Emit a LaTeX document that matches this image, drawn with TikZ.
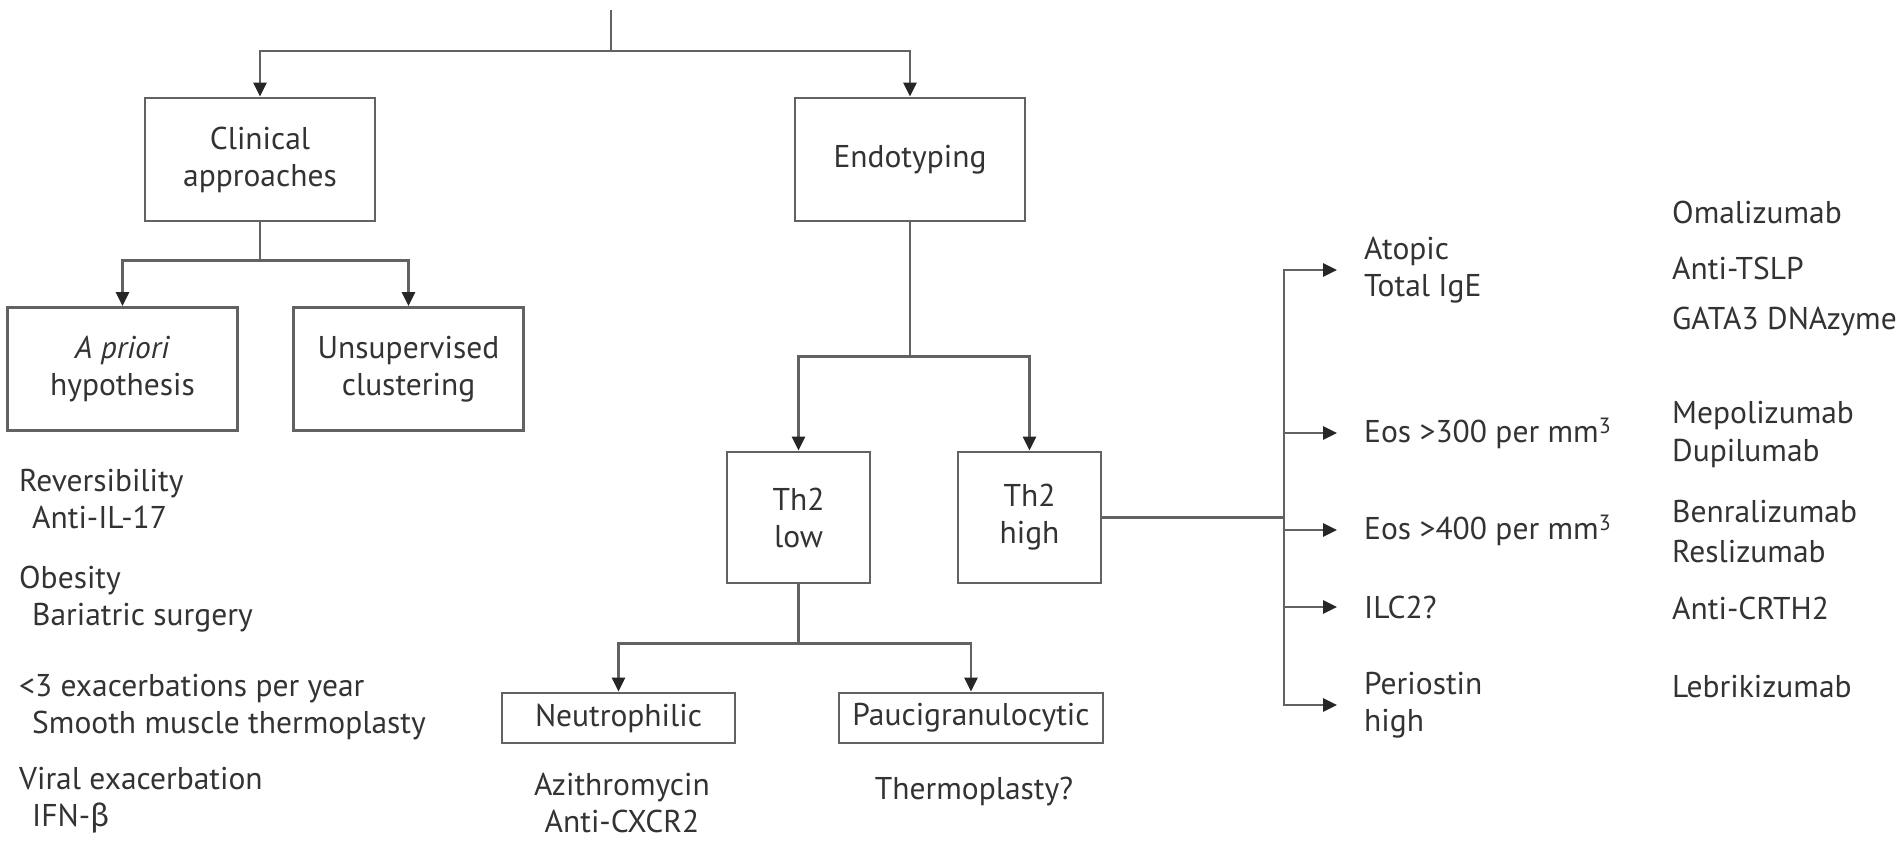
\documentclass[tikz,border=0pt]{standalone}
\usepackage{fontspec}
\setmainfont{PT Sans}
\newfontfamily\grk{Fira Sans}
\usetikzlibrary{arrows.meta}
\definecolor{lncol}{HTML}{626262}
\definecolor{txcol}{HTML}{333333}
\begin{document}
\begin{tikzpicture}[x=1pt,y=-1pt,
  every node/.style={font=\fontsize{31.5}{37}\selectfont, text=txcol},
  box/.style={draw=lncol, line width=2.8pt, align=center, inner sep=0pt},
  bigbox/.style={box, minimum width=230pt, minimum height=123pt},
  thbox/.style={box, minimum width=143pt, minimum height=131pt},
  smallbox/.style={box, minimum height=50pt},
  lbl/.style={anchor=west, align=left, inner sep=0pt},
  conn/.style={draw=lncol, line width=2.6pt},
  arr/.style={conn, -{Triangle[length=14pt,width=13pt,color=black!85]}}
]
\fill[white] (0,0) rectangle (1903,845);
\useasboundingbox (0,0) rectangle (1903,845);

% boxes
\node[bigbox] (clin) at (260,159.5) {Clinical\\approaches};
\node[bigbox] (endo) at (910,159.5) {Endotyping};
\node[bigbox] (apri) at (122.5,369) {\textit{A priori}\\hypothesis};
\node[bigbox] (unsup) at (408.5,369) {Unsupervised\\clustering};
\node[thbox] (th2l) at (798.5,517.5) {Th2\\low};
\node[thbox] (th2h) at (1029.5,517.5) {Th2\\high};
\node[smallbox, minimum width=233pt] (neut) at (618.5,718) {Neutrophilic};
\node[smallbox, minimum width=264pt] (pauci) at (971,718) {Paucigranulocytic};

% left texts
\node[lbl] (rev) at (19,499.5) {Reversibility\\\hspace*{13pt}Anti-IL-17};
\node[lbl] (obe) at (19,599) {Obesity\\\hspace*{13pt}Bariatric surgery};
\node[lbl] (exa) at (19,707.5) {<3 exacerbations per year\\\hspace*{13pt}Smooth muscle thermoplasty};
\node[lbl] (vir) at (19,800) {Viral exacerbation\\\hspace*{13pt}IFN-{\grk β}};

% bottom texts
\node[align=center, inner sep=0pt] (azi) at (622,803) {Azithromycin\\Anti-CXCR2};
\node[inner sep=0pt] (therm) at (974,792) {Thermoplasty?};

% right labels
\node[lbl] (atopic) at (1364,270) {Atopic\\Total IgE};
\node[lbl] (eos3) at (1364,433) {Eos >300 per mm\textsuperscript{3}};
\node[lbl] (eos4) at (1364,530) {Eos >400 per mm\textsuperscript{3}};
\node[lbl] (ilc) at (1364,607) {ILC2?};
\node[lbl] (peri) at (1364,705) {Periostin\\high};

% drugs
\node[lbl] (oma) at (1672,212) {Omalizumab};
\node[lbl] (tslp) at (1672,268) {Anti-TSLP};
\node[lbl] (gata) at (1672,322) {GATA3 DNAzyme};
\node[lbl] (mepo) at (1672,415) {Mepolizumab};
\node[lbl] (dupi) at (1672,453) {Dupilumab};
\node[lbl] (benra) at (1672,512) {Benralizumab};
\node[lbl] (resli) at (1672,552) {Reslizumab};
\node[lbl] (crth) at (1672,608) {Anti-CRTH2};
\node[lbl] (lebri) at (1672,687) {Lebrikizumab};

% connectors
\coordinate (top) at (611,10);
\coordinate (tj) at (611,51);
\draw[conn] (top) -- (tj);
\draw[arr] (tj) -| (clin.north);
\draw[arr] (tj) -| (endo.north);

\path (clin.south) ++(0,38) coordinate (cj);
\draw[conn] (clin.south) -- (cj);
\draw[arr] (cj) -| (apri.north);
\draw[arr] (cj) -| (unsup.north);

\path (endo.south) ++(0,134) coordinate (ej);
\draw[conn] (endo.south) -- (ej);
\draw[arr] (ej) -| (th2l.north);
\draw[arr] (ej) -| (th2h.north);

\path (th2l.south) ++(0,59) coordinate (lj);
\draw[conn] (th2l.south) -- (lj);
\draw[arr] (lj) -| (neut.north);
\draw[arr] (lj) -| (pauci.north);

\coordinate (hj) at (1284,517.5);
\draw[conn] (th2h.east) -- (hj);
\draw[arr] (hj) |- ([xshift=-27pt]atopic.west);
\draw[arr] (hj) |- ([xshift=-27pt]peri.west);
\draw[arr] (hj |- eos3.west) -- ([xshift=-27pt]eos3.west);
\draw[arr] (hj |- eos4.west) -- ([xshift=-27pt]eos4.west);
\draw[arr] (hj |- ilc.west) -- ([xshift=-27pt]ilc.west);
\end{tikzpicture}
\end{document}
